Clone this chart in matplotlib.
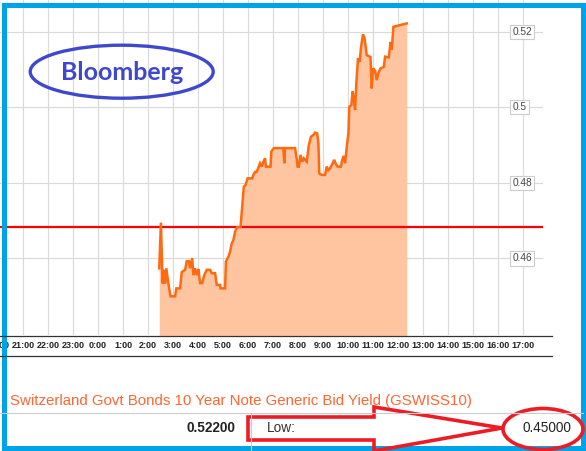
import matplotlib
matplotlib.use("Agg")
import matplotlib.pyplot as plt
from matplotlib.patches import Ellipse, Rectangle, Polygon
from matplotlib.lines import Line2D
from matplotlib.transforms import blended_transform_factory

# ---------------- data ----------------
times = ["2:27", "2:31", "2:35", "2:38", "2:41", "2:44", "2:49", "2:54", "3:05", "3:08",
         "3:17", "3:21", "3:29", "3:33", "3:38", "3:41", "3:46", "3:49", "3:53", "3:57",
         "4:01", "4:05", "4:10", "4:15", "4:21", "4:29", "4:33", "4:41", "4:45", "4:53",
         "4:54", "5:05", "5:07", "5:13", "5:17", "5:21", "5:25", "5:29", "5:34", "5:42",
         "5:45", "5:50", "5:54", "5:59", "6:10", "6:13", "6:17", "6:21", "6:25", "6:29",
         "6:33", "6:37", "6:41", "6:43", "6:54", "6:56", "7:02", "7:25", "7:27", "7:29",
         "7:53", "7:57", "7:59", "8:02", "8:06", "8:10", "8:14", "8:21", "8:26", "8:31",
         "8:37", "8:41", "8:46", "8:49", "8:51", "8:57", "9:05", "9:09", "9:13", "9:17",
         "9:21", "9:27", "9:30", "9:35", "9:43", "9:46", "9:50", "9:53", "9:57", "10:01",
         "10:03", "10:08", "10:11", "10:14", "10:17", "10:20", "10:24", "10:28", "10:31", "10:36",
         "10:40", "10:45", "10:54", "10:57", "11:00", "11:05", "11:09", "11:13", "11:18", "11:26",
         "11:29", "11:38", "11:42", "11:45", "11:49", "12:21"]
yields = [0.4574, 0.4695, 0.4534, 0.4570, 0.4534, 0.4574, 0.4533, 0.4500, 0.4500, 0.4521,
          0.4521, 0.4564, 0.4570, 0.4593, 0.4593, 0.4574, 0.4601, 0.4556, 0.4574, 0.4556,
          0.4572, 0.4535, 0.4535, 0.4556, 0.4570, 0.4570, 0.4561, 0.4561, 0.4530, 0.4530,
          0.4521, 0.4521, 0.4592, 0.4605, 0.4618, 0.4640, 0.4649, 0.4671, 0.4683, 0.4683,
          0.4723, 0.4790, 0.4794, 0.4812, 0.4812, 0.4821, 0.4829, 0.4829, 0.4841, 0.4852,
          0.4843, 0.4856, 0.4865, 0.4843, 0.4843, 0.4883, 0.4892, 0.4892, 0.4852, 0.4892,
          0.4892, 0.4863, 0.4843, 0.4843, 0.4874, 0.4856, 0.4865, 0.4856, 0.4900, 0.4922,
          0.4927, 0.4933, 0.4931, 0.4905, 0.4825, 0.4821, 0.4821, 0.4843, 0.4834, 0.4839,
          0.4847, 0.4861, 0.4852, 0.4843, 0.4843, 0.4861, 0.4871, 0.4852, 0.4895, 0.4931,
          0.5001, 0.5006, 0.5042, 0.5019, 0.4993, 0.5064, 0.5130, 0.5120, 0.5157, 0.5193,
          0.5181, 0.5138, 0.5133, 0.5050, 0.5103, 0.5097, 0.5072, 0.5091, 0.5103, 0.5107,
          0.5134, 0.5132, 0.5173, 0.5152, 0.5213, 0.5222]

hour_labels = ["20:00", "21:00", "22:00", "23:00", "0:00", "1:00", "2:00", "3:00", "4:00",
               "5:00", "6:00", "7:00", "8:00", "9:00", "10:00", "11:00", "12:00", "13:00",
               "14:00", "15:00", "16:00", "17:00"]
hour_positions = [-4, -3, -2, -1, 0, 1, 2, 3, 4, 5, 6, 7, 8, 9, 10, 11, 12, 13, 14, 15, 16, 17]
ytick_values = [0.46, 0.48, 0.50, 0.52]
ytick_labels = ["0.46", "0.48", "0.5", "0.52"]
ref_level = 0.4683
title_text = "Switzerland Govt Bonds 10 Year Note Generic Bid Yield (GSWISS10)"
last_value = "0.52200"
low_label = "Low:"
low_value = "0.45000"
logo_text = "Bloomberg"

hours = [int(t.split(":")[0]) + int(t.split(":")[1]) / 60 for t in times]

# ---------------- layout helpers ----------------
W, H = 586, 451
def fx(x):
    return x / W
def fy(y):
    return 1 - y / H

fig = plt.figure(figsize=(W / 100, H / 100), dpi=100, facecolor="white")
ax = fig.add_axes([0, fy(335), fx(543), 335 / H])
ax.set_xlim(-3.92, 17.8)
ax.set_ylim(0.43976, 0.52839)
for s in ax.spines.values():
    s.set_visible(False)
ax.set_xticks([])
ax.set_yticks([])

grid_c = "#d9d9d9"
for h in hour_positions:
    ax.axvline(h, color=grid_c, lw=0.8, zorder=0)
for v in ytick_values:
    ax.axhline(v, color=grid_c, lw=0.8, zorder=0)

ax.fill_between(hours, yields, 0.43, color="#ffc4a0", lw=0, zorder=1)
ax.axhline(ref_level, color="#ff0000", lw=1.6, zorder=2)
ax.plot(hours, yields, color="#ff6a10", lw=1.8, zorder=3, solid_joinstyle="miter")

# y tick labels in boxes
ty = blended_transform_factory(fig.transFigure, ax.transData)
for v, lbl in zip(ytick_values, ytick_labels):
    ax.text(fx(512.5), v, lbl, transform=ty, ha="left", va="center", fontsize=7.3,
            family="Liberation Sans", color="#444444", zorder=5,
            bbox=dict(boxstyle="square,pad=0.2", fc="white", ec="#cccccc", lw=0.8))

# x tick labels
tx = blended_transform_factory(ax.transData, fig.transFigure)
for h, lbl in zip(hour_positions, hour_labels):
    ax.text(h, fy(345), lbl, transform=tx, ha="center", va="center", fontsize=6.5,
            fontweight="bold", family="Liberation Sans", color="#222222", clip_on=False)

for yy in (335.5, 355.5):
    fig.add_artist(Line2D([0, fx(552)], [fy(yy), fy(yy)], transform=fig.transFigure,
                          color="#333333", lw=0.9))

# Bloomberg logo
fig.add_artist(Ellipse((fx(121.7), fy(71.7)), 183 / W, 53 / H, transform=fig.transFigure,
                       fill=False, ec="#3f48cc", lw=2.4))
fig.text(fx(122), fy(72), logo_text, ha="center", va="center", fontsize=18,
         fontweight="bold", family="Lato", color="#3f48cc")

# bottom info area
fig.text(fx(10.5), fy(401), title_text, ha="left", va="center", fontsize=10.8,
         family="Liberation Sans", color="#ff6633")
fig.add_artist(Line2D([0, fx(583)], [fy(413), fy(413)], transform=fig.transFigure,
                      color="#cccccc", lw=0.8))
fig.add_artist(Line2D([fx(251), fx(251)], [fy(413), fy(451)], transform=fig.transFigure,
                      color="#cccccc", lw=0.8))
fig.text(fx(235), fy(428), last_value, ha="right", va="center", fontsize=9.8,
         fontweight="bold", family="Liberation Sans", color="#222222")
fig.text(fx(267), fy(428), low_label, ha="left", va="center", fontsize=9.8,
         family="Liberation Sans", color="#333333")
fig.text(fx(571), fy(428), low_value, ha="right", va="center", fontsize=9.8,
         family="Liberation Sans", color="#222222")

# blue frame
fig.add_artist(Rectangle((fx(4.2), fy(447.5)), (582.5 - 4.2) / W, (447.5 - 4.7) / H,
                         transform=fig.transFigure, fill=False, ec="#00a2e8", lw=3.6))

# red arrow annotation
arrow_px = [(248, 417), (374, 417), (374, 407), (502, 428), (374, 451), (374, 440), (248, 440)]
fig.add_artist(Polygon([(fx(x), fy(y)) for x, y in arrow_px], closed=True, fill=False,
                       ec="#ed1c24", lw=2.6, joinstyle="miter", transform=fig.transFigure))
fig.add_artist(Ellipse((fx(543), fy(429)), 80 / W, 41 / H, transform=fig.transFigure,
                       fill=False, ec="#ed1c24", lw=2.6))

fig.savefig("out.png", dpi=100, facecolor="white")
